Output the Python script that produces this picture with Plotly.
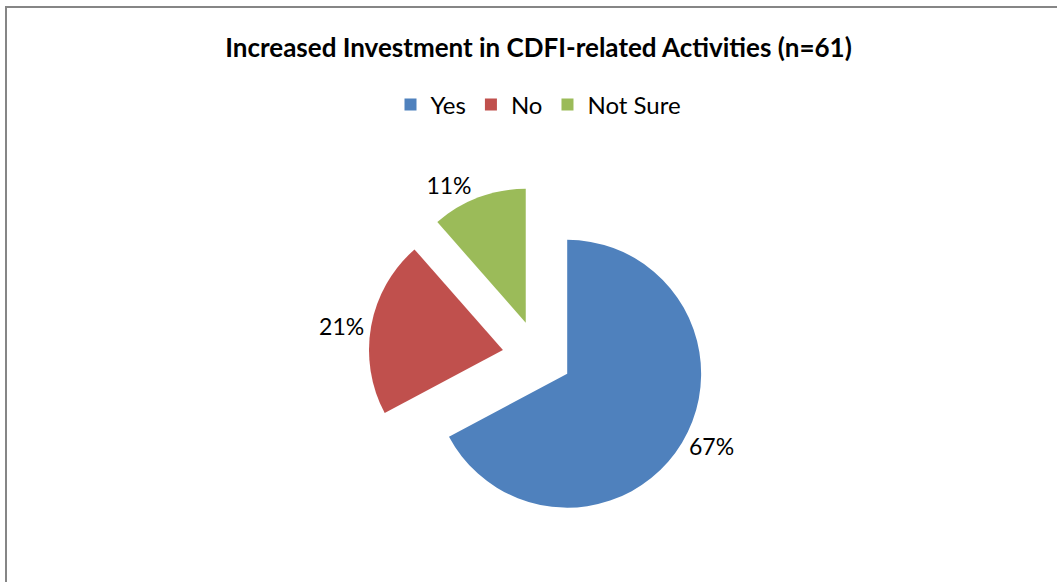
import plotly.graph_objects as go

# Survey responses (n=61)
categories = ["Yes", "No", "Not Sure"]
counts = [41, 13, 7]
colors = ["#4F81BD", "#C0504D", "#9BBB59"]
explode = [0.25, 0.27, 0.27]

W, H = 1057, 582
cx_frac = 538.5 / W

fig = go.Figure(
    go.Pie(
        labels=categories,
        values=counts,
        marker=dict(colors=colors, line=dict(width=0)),
        sort=False,
        direction="clockwise",
        rotation=0,
        pull=explode,
        textposition="outside",
        texttemplate="%{percent:.0%}",
        textfont=dict(family="Lato", size=23, color="#000000"),
        domain=dict(x=[cx_frac - 0.3, cx_frac + 0.3], y=[0.0952, 0.6797]),
        hoverinfo="label+value+percent",
    )
)

fig.update_layout(
    width=W,
    height=H,
    margin=dict(l=0, r=0, t=0, b=0, autoexpand=False),
    paper_bgcolor="#FFFFFF",
    plot_bgcolor="#FFFFFF",
    font=dict(family="Lato", color="#000000"),
    title=dict(
        text="<b>Increased Investment in CDFI-related Activities (n=61)</b>",
        x=cx_frac,
        xanchor="center",
        y=1 - 48 / H,
        yanchor="middle",
        yref="container",
        font=dict(family="Lato", size=26, color="#000000"),
    ),
    legend=dict(
        orientation="h",
        x=cx_frac,
        xanchor="center",
        y=1 - 105 / H,
        yanchor="middle",
        font=dict(family="Lato", size=24, color="#000000"),
        traceorder="normal",
    ),
    shapes=[
        dict(
            type="rect",
            xref="paper",
            yref="paper",
            x0=6 / W,
            x1=1.02,
            y0=-0.02,
            y1=1 - 7 / H,
            line=dict(color="#868686", width=2),
            fillcolor="rgba(0,0,0,0)",
            layer="above",
        )
    ],
)

fig.write_html("out.html")
